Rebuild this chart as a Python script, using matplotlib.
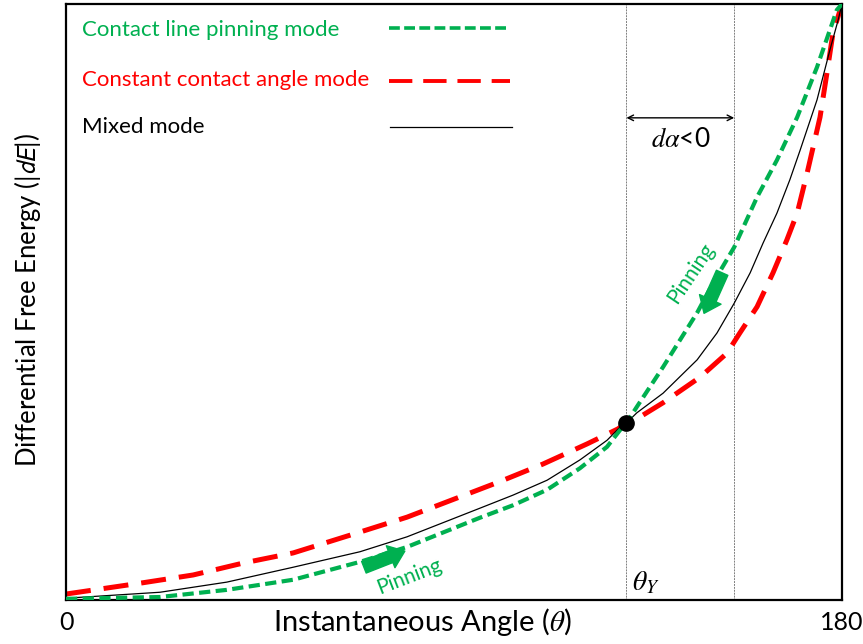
import matplotlib
matplotlib.use('Agg')
from matplotlib import pyplot as plt

plt.rcParams['font.family'] = ['Lato', 'DejaVu Sans']

green = '#00B050'
red = '#FF0000'

# 接触线钉扎模式
theta_pin = [0, 21.8, 37.3, 52.7, 68.2, 79.1, 96.0, 103.7, 111.6, 119.2, 125.5,
             128.5, 130, 132.4, 138.5, 146.4, 150.1, 155.0, 160.3, 164.9, 169.6,
             174.2, 178.8, 180]
e_pin = [0.002, 0.005, 0.017, 0.034, 0.064, 0.089, 0.138, 0.159, 0.185, 0.221,
         0.257, 0.285, 0.297, 0.324, 0.391, 0.482, 0.532, 0.592, 0.676, 0.738,
         0.810, 0.894, 0.990, 1.0]

# 恒定接触角模式
theta_cca = [0, 17.9, 29.5, 41.1, 52.7, 68.2, 79.1, 100.4, 110.6, 120.9, 128.0,
             130, 133.1, 138.5, 147.1, 153.3, 156.3, 160.3, 164.0, 167.2, 169.6,
             171.9, 174.9, 176.5, 177.9, 180]
e_cca = [0.010, 0.029, 0.042, 0.062, 0.079, 0.114, 0.139, 0.198, 0.228, 0.262,
         0.287, 0.297, 0.307, 0.331, 0.374, 0.414, 0.448, 0.492, 0.549, 0.604,
         0.649, 0.716, 0.810, 0.884, 0.951, 1.0]

# 混合模式
theta_mix = [0, 21.8, 37.3, 52.7, 68.2, 79.1, 96.0, 103.7, 111.6, 119.2, 125.5,
             128.5, 130, 132.4, 138.5, 146.4, 151.0, 155.0, 158.7, 161.7, 164.9,
             167.9, 170.3, 174.2, 177.2, 179.1, 180]
e_mix = [0.003, 0.013, 0.030, 0.055, 0.081, 0.106, 0.154, 0.176, 0.201, 0.235,
         0.268, 0.290, 0.297, 0.314, 0.347, 0.403, 0.448, 0.498, 0.549, 0.599,
         0.649, 0.705, 0.755, 0.839, 0.923, 0.973, 1.0]

theta_y = 130
theta_2 = 155
e_y = 0.297

legend_labels = ['Contact line pinning mode', 'Constant contact angle mode', 'Mixed mode']

fig = plt.figure(figsize=(8.63, 6.44), dpi=100, facecolor='w')
ax = fig.add_axes([66 / 863, 44 / 644, 776 / 863, 596 / 644])

# 两条竖直参考线
for xv in (theta_y, theta_2):
    ax.axvline(xv, color='#7f7f7f', lw=0.7, ls=(0, (2, 1)), zorder=1)

ax.plot(theta_cca, e_cca, color=red, lw=3.6, dashes=(5, 2.6), dash_capstyle='butt', zorder=2)
ax.plot(theta_mix, e_mix, color='black', lw=0.9, zorder=3)
ax.plot(theta_pin, e_pin, color=green, lw=3.0, dashes=(2.7, 1.3), dash_capstyle='butt', zorder=4)
ax.plot(theta_y, e_y, 'o', color='black', ms=11, zorder=6)

# 图例：文字在左，线样在右
leg_y = [0.956, 0.872, 0.794]
leg_colors = [green, red, 'black']
for lab, yy, c in zip(legend_labels, leg_y, leg_colors):
    ax.text(0.0206, yy, lab, color=c, fontsize=16, va='center', ha='left', transform=ax.transAxes)
ax.plot([0.416, 0.572], [0.960, 0.960], color=green, lw=2.6, dashes=(3, 1.2),
        dash_capstyle='butt', transform=ax.transAxes)
ax.plot([0.416, 0.572], [0.871, 0.871], color=red, lw=2.8, dashes=(6, 2.8),
        dash_capstyle='butt', transform=ax.transAxes)
ax.plot([0.418, 0.575], [0.794, 0.794], color='black', lw=0.9, transform=ax.transAxes)

# dα<0 双向箭头
ax.annotate('', xy=(theta_2, 0.809), xytext=(theta_y, 0.809),
            arrowprops=dict(arrowstyle='<->', color='black', lw=1, shrinkA=0, shrinkB=0))
ax.text((theta_y + theta_2) / 2, 0.772, r'$d\alpha$<0', fontsize=19, ha='center', va='center',
        math_fontfamily='stix')
ax.text(theta_y + 1.2, 0.006, r'$\theta_Y$', fontsize=20, ha='left', va='bottom',
        math_fontfamily='stix')

# Pinning 箭头
arrow_style = 'simple,head_length=0.55,head_width=0.85,tail_width=0.45'
ax.annotate('', xy=(78.6, 0.082), xytext=(69.1, 0.055),
            arrowprops=dict(arrowstyle=arrow_style, color=green, mutation_scale=20,
                            shrinkA=0, shrinkB=0), zorder=5)
ax.annotate('', xy=(148.0, 0.481), xytext=(152.2, 0.549),
            arrowprops=dict(arrowstyle=arrow_style, color=green, mutation_scale=20,
                            shrinkA=0, shrinkB=0), zorder=5)
ax.text(79.6, 0.039, 'Pinning', color=green, fontsize=15, rotation=21,
        ha='center', va='center', rotation_mode='anchor')
ax.text(145.0, 0.548, 'Pinning', color=green, fontsize=15, rotation=56,
        ha='center', va='center', rotation_mode='anchor')

ax.set_xlim(0, 180)
ax.set_ylim(0, 1)
ax.set_xticks([0, 180])
ax.set_xticklabels(['0', '180'], fontsize=18)
ax.set_yticks([])
ax.tick_params(length=0, pad=8)
for sp in ax.spines.values():
    sp.set_linewidth(1.6)

ax.set_xlabel(r'Instantaneous Angle ($\theta$)', fontsize=21, va='center', math_fontfamily='stix')
ax.xaxis.set_label_coords((422 - 66) / 776, -0.037)
ax.set_ylabel(r'Differential Free Energy (|$dE$|)', fontsize=18.5, va='center',
              math_fontfamily='stixsans')
ax.yaxis.set_label_coords(-0.049, 0.503)

fig.savefig('out.png', dpi=100)
